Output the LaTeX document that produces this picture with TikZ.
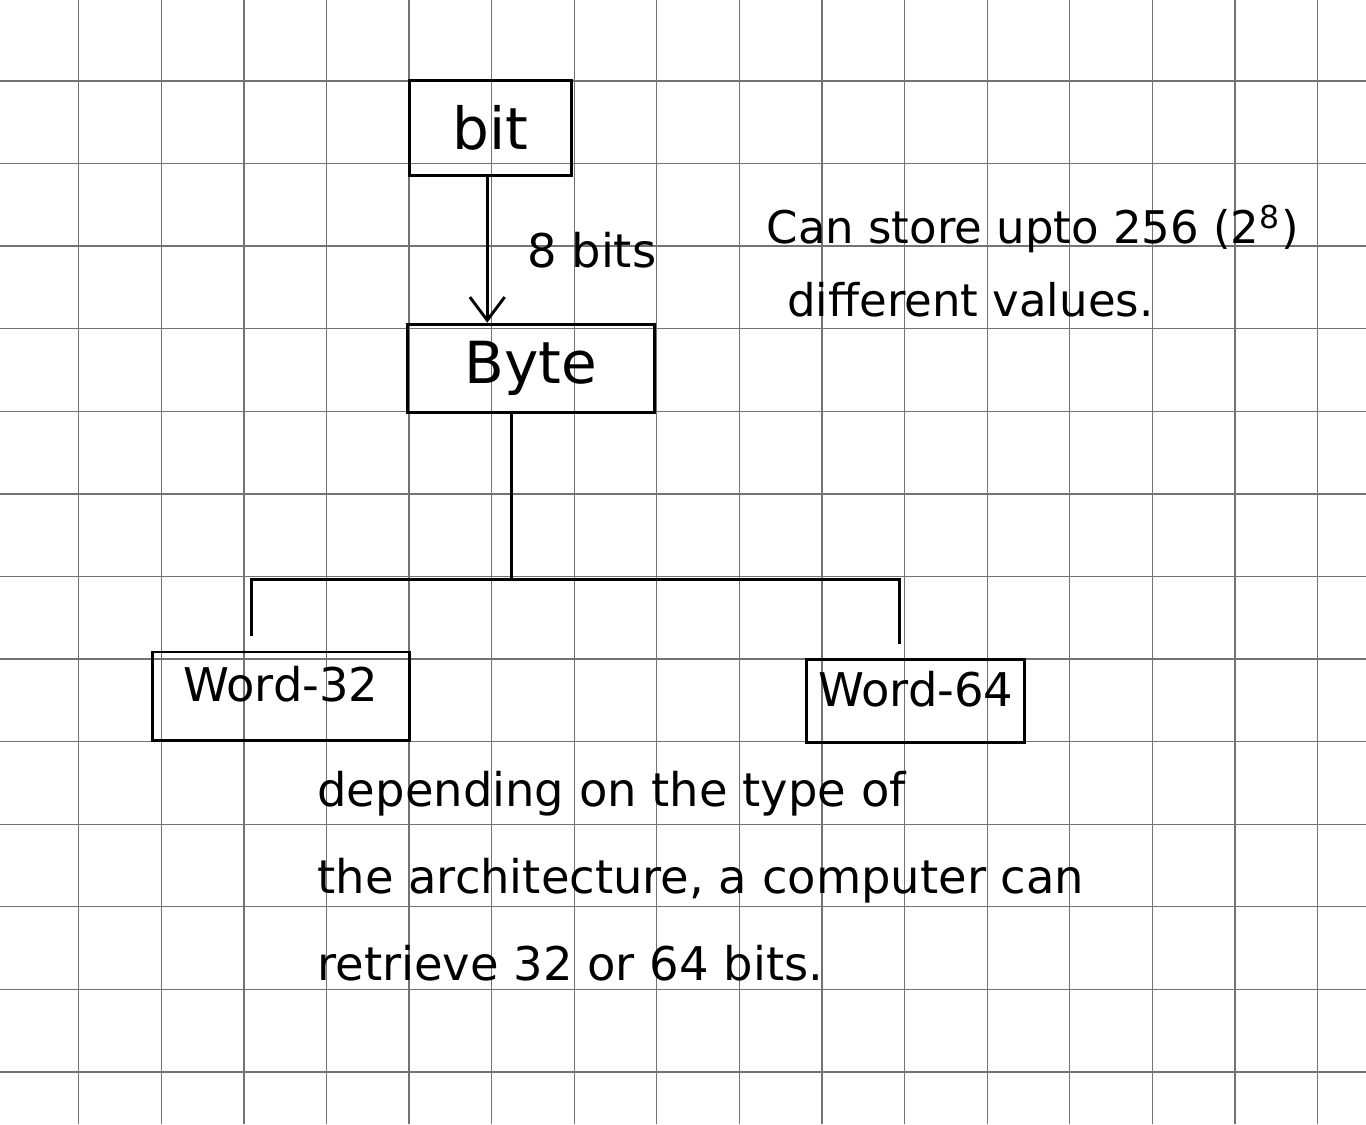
\documentclass[tikz,border=0pt]{standalone}
\usepackage{fontspec}
\setmainfont{DejaVu Sans}
\usetikzlibrary{arrows.meta,positioning,calc}

\begin{document}
\begin{tikzpicture}[
    box/.style={rectangle, draw, line width=1pt, font=\fontsize{20}{24}\selectfont},
    wordbox/.style={rectangle, draw, line width=1pt, font=\fontsize{16}{19}\selectfont, text depth=0.3cm},
    link/.style={line width=1pt},
    hand/.style={anchor=west, align=left}]
    \fill[white] (0,0) rectangle (16.54,13.61);
    \useasboundingbox (0,0) rectangle (16.54,13.61);
    \foreach \x in {0,...,15} \draw[black!55, line width=0.45pt] (0.953+\x,0) -- (0.953+\x,13.61);
    \foreach \y in {0,...,12} \draw[black!55, line width=0.45pt] (0,0.63+\y) -- (16.54,0.63+\y);

    \node[box, minimum width=1.97cm, minimum height=1.15cm] (bit) at (5.94,12.06) {bit};
    \node[box, minimum width=3cm, minimum height=1.07cm] (byte) at (6.43,9.15) {Byte};
    \node[wordbox, minimum width=3.11cm, minimum height=1.07cm] (w32) at (3.40,5.18) {Word-32};
    \node[wordbox, minimum width=2.64cm, minimum height=1cm] (w64) at (11.09,5.12) {Word-64};

    \draw[link, -{Straight Barb[length=8pt, width=12pt]}] ([xshift=-0.04cm]bit.south) -- ([xshift=-0.04cm]bit.south |- byte.north)
        node[midway, right=0.35cm, font=\fontsize{16}{19}\selectfont] (eight) {8 bits};

    \coordinate (split) at ($(byte.south)+(-0.24,-2)$);
    \draw[link] ([xshift=-0.24cm]byte.south) -- (split);
    \draw[link, shorten >=0.18cm] (split) -| ([xshift=-0.36cm]w32.north);
    \draw[link, shorten >=0.18cm] (split) -| ([xshift=-0.2cm]w64.north);

    \node[hand, font=\fontsize{15.5}{25}\selectfont] (store) at (9.16,10.45) {Can store upto 256 (2\textsuperscript{8})\\\hspace{0.25cm}different values.};
    \node[hand, font=\fontsize{16}{30}\selectfont] (arch) at (3.72,3.0) {depending on the type of\\the architecture, a computer can\\retrieve 32 or 64 bits.};
\end{tikzpicture}
\end{document}
